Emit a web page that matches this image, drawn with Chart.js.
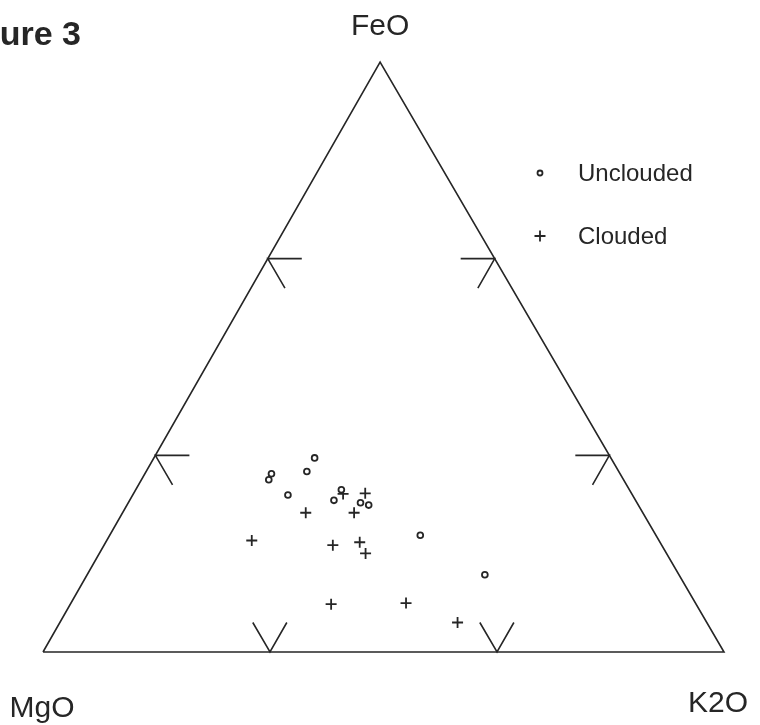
<!DOCTYPE html>
<html>
<head>
<meta charset="utf-8">
<script src="https://cdn.jsdelivr.net/npm/chart.js@4"></script>
<style>
  html, body { margin: 0; padding: 0; background: #fff; }
  canvas { display: block; }
</style>
</head>
<body>
<canvas id="c" width="760" height="725"></canvas>
<script>
// Ternary compositions (wt % normalised to 100) for the two populations
const uncloudedFeO = [32.9, 30.6, 30.2, 29.2, 26.6, 27.5, 25.7, 25.3, 24.9, 19.8, 13.1];
const uncloudedMgO = [43.5, 45.8, 51.2, 52.1, 50.6, 42.3, 44.3, 40.6, 39.6, 34.6, 28.5];
const uncloudedK2O = [23.6, 23.6, 18.6, 18.7, 22.8, 30.2, 30.0, 34.1, 35.5, 45.6, 58.4];

const cloudedFeO = [26.8, 26.9, 23.6, 23.6, 18.9, 18.1, 18.6, 16.7, 8.1, 8.3, 5.0];
const cloudedMgO = [42.4, 39.1, 49.5, 42.4, 59.8, 48.3, 44.1, 44.2, 53.6, 42.5, 36.6];
const cloudedK2O = [30.8, 34.0, 26.9, 34.0, 21.3, 33.6, 37.3, 39.1, 38.3, 49.2, 58.4];

// Corner labels and series names
const cornerLabels = ['FeO', 'MgO', 'K2O'];
const seriesNames = ['Unclouded', 'Clouded'];
const figureTitle = 'Figure 3';

// Edge tick positions (percent along each edge) and tick arm length (percent)
const tickPositions = [33.33, 66.67];
const tickArm = 5;

// Horizontal position of the FeO apex on the 0..100 x range
const APEX_X = 49.5;

function toXY(feo, mgo, k2o) {
  const s = feo + mgo + k2o;
  const f = feo / s * 100, k = k2o / s * 100;
  return { x: k + f * APEX_X / 100, y: f };
}

function seriesPoints(fe, mg, k) {
  return fe.map((v, i) => toXY(v, mg[i], k[i]));
}

// Triangle outline: MgO -> K2O -> FeO -> MgO
const outline = [toXY(0, 100, 0), toXY(0, 0, 100), toXY(100, 0, 0), toXY(0, 100, 0)];

// Tick marks: each is a small V/arrow made of two arms from a point on an edge
function tickSets() {
  const sets = [];
  tickPositions.forEach(p => {
    // Left edge (K2O = 0), p measured as FeO
    let F = p, M = 100 - p;
    sets.push([toXY(F, M - tickArm, tickArm), toXY(F, M, 0), toXY(F - tickArm, M, tickArm)]);
    // Right edge (MgO = 0)
    let K = 100 - p;
    sets.push([toXY(F, tickArm, K - tickArm), toXY(F, 0, K), toXY(F - tickArm, tickArm, K)]);
    // Bottom edge (FeO = 0), p measured as K2O
    K = p; M = 100 - p;
    sets.push([toXY(tickArm, M, K - tickArm), toXY(0, M, K), toXY(tickArm, M - tickArm, K)]);
  });
  return sets;
}

const INK = '#262626';

const frameDatasets = [
  {
    type: 'line', label: 'frame', data: outline,
    borderColor: INK, borderWidth: 1.6, pointRadius: 0, fill: false, tension: 0
  },
  ...tickSets().map(s => ({
    type: 'line', label: 'tick', data: s,
    borderColor: INK, borderWidth: 1.6, pointRadius: 0, fill: false, tension: 0
  }))
];

const seriesStyles = [
  { pointStyle: 'circle', radius: 2.9, borderWidth: 1.8, keyRadius: 2.5 },
  { pointStyle: 'cross', radius: 5.5, borderWidth: 1.8, keyRadius: 5.5 }
];

const dataDatasets = [
  {
    label: seriesNames[0],
    data: seriesPoints(uncloudedFeO, uncloudedMgO, uncloudedK2O),
    pointStyle: seriesStyles[0].pointStyle,
    pointRadius: seriesStyles[0].radius,
    borderWidth: seriesStyles[0].borderWidth,
    borderColor: INK, backgroundColor: '#fff', showLine: false
  },
  {
    label: seriesNames[1],
    data: seriesPoints(cloudedFeO, cloudedMgO, cloudedK2O),
    pointStyle: seriesStyles[1].pointStyle,
    pointRadius: seriesStyles[1].radius,
    borderWidth: seriesStyles[1].borderWidth,
    borderColor: INK, backgroundColor: INK, showLine: false
  }
];

// Draws the corner labels, the figure caption and the key
const annotations = {
  id: 'annotations',
  afterDraw(chart) {
    const ctx = chart.ctx;
    const xs = chart.scales.x, ys = chart.scales.y;
    ctx.save();
    ctx.fillStyle = INK;

    // Caption
    ctx.font = 'bold 34px "Liberation Sans", Arial, sans-serif';
    ctx.textAlign = 'right';
    ctx.textBaseline = 'alphabetic';
    ctx.fillText(figureTitle, 81, 45);

    // Corner labels
    ctx.font = '30px "Liberation Sans", Arial, sans-serif';
    ctx.textAlign = 'center';
    const apex = toXY(100, 0, 0), mg = toXY(0, 100, 0), k = toXY(0, 0, 100);
    ctx.fillText(cornerLabels[0], xs.getPixelForValue(apex.x), ys.getPixelForValue(apex.y) - 27);
    ctx.fillText(cornerLabels[1], xs.getPixelForValue(mg.x) - 1, ys.getPixelForValue(mg.y) + 65);
    ctx.fillText(cornerLabels[2], xs.getPixelForValue(k.x) - 6, ys.getPixelForValue(k.y) + 60);

    // Key
    ctx.font = '24px "Liberation Sans", Arial, sans-serif';
    ctx.textAlign = 'left';
    const rows = [{ y: 173 }, { y: 236 }];
    ctx.strokeStyle = INK;
    rows.forEach((r, i) => {
      const st = seriesStyles[i];
      ctx.lineWidth = st.borderWidth;
      ctx.beginPath();
      if (st.pointStyle === 'circle') {
        ctx.fillStyle = '#fff';
        ctx.arc(540, r.y, st.keyRadius, 0, Math.PI * 2);
        ctx.fill();
        ctx.stroke();
      } else {
        ctx.moveTo(540 - st.keyRadius, r.y); ctx.lineTo(540 + st.keyRadius, r.y);
        ctx.moveTo(540, r.y - st.keyRadius); ctx.lineTo(540, r.y + st.keyRadius);
        ctx.stroke();
      }
      ctx.fillStyle = INK;
      ctx.fillText(seriesNames[i], 578, r.y + 8);
    });
    ctx.restore();
  }
};

new Chart(document.getElementById('c'), {
  type: 'scatter',
  data: { datasets: [...frameDatasets, ...dataDatasets] },
  options: {
    responsive: false,
    animation: false,
    clip: false,
    layout: { padding: { left: 43, right: 36, top: 62, bottom: 73 } },
    scales: {
      x: { type: 'linear', min: 0, max: 100, display: false },
      y: { type: 'linear', min: 0, max: 100, display: false }
    },
    plugins: {
      legend: { display: false },
      tooltip: { enabled: false }
    }
  },
  plugins: [annotations]
});
</script>
</body>
</html>
